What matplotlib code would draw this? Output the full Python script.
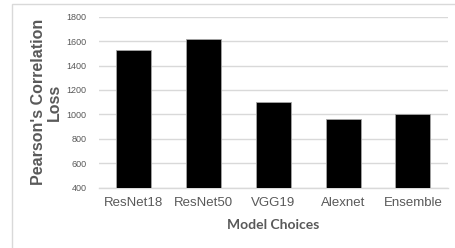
import matplotlib
matplotlib.use("Agg")
import matplotlib.pyplot as plt
from matplotlib.patches import Rectangle

categories = ["ResNet18", "ResNet50", "VGG19", "Alexnet", "Ensemble"]
values = [1530, 1620, 1103, 966, 1000]
yticks = [400, 600, 800, 1000, 1200, 1400, 1600, 1800]

W, H = 455, 248
fig = plt.figure(figsize=(W / 100, H / 100), dpi=100)

# outer chart border (cut off on right and bottom)
fig.patches.append(Rectangle((12 / W, -0.05), 1.2, 1 - 4 / H + 0.05,
                             transform=fig.transFigure, fill=False,
                             edgecolor="#d9d9d9", linewidth=1.0))

ax = fig.add_axes([99 / W, 1 - 187.7 / H, (447.7 - 99) / W, (187.7 - 16.7) / H])
x = range(len(categories))
ax.bar(x, values, width=0.5, color="black", edgecolor="#a6a6a6", linewidth=0.6,
       zorder=3, bottom=0)
ax.set_ylim(400, 1800)
ax.set_xlim(-0.5, len(categories) - 0.5)
ax.set_yticks(yticks)
ax.set_yticklabels([str(v) for v in yticks])
ax.set_xticks(list(x))
ax.set_xticklabels(categories)
ax.grid(axis="y", color="#d9d9d9", linewidth=1.0, zorder=0)
for s in ["top", "right", "left"]:
    ax.spines[s].set_visible(False)
ax.spines["bottom"].set_color("#d9d9d9")
ax.spines["bottom"].set_linewidth(1.0)
ax.tick_params(axis="both", length=0)
ax.tick_params(axis="y", labelsize=6.5, labelcolor="#595959", pad=9)
ax.tick_params(axis="x", labelsize=9.5, labelcolor="#595959", pad=7)
for lab in ax.get_xticklabels() + ax.get_yticklabels():
    lab.set_family("Liberation Sans")

ax.set_ylabel("Pearson's Correlation\nLoss", fontsize=11.5, fontweight="bold",
              color="#595959", family="Liberation Sans", linespacing=1.05)
ax.yaxis.set_label_coords(-37 / (447.7 - 99), 0.5)
ax.set_xlabel("Model Choices", fontsize=10, fontweight="bold", color="#595959",
              family="Lato")
ax.xaxis.set_label_coords(0.5, -(225 - 187.7) / (187.7 - 16.7))
ax.xaxis.label.set_va("center")

fig.savefig("out.png", dpi=100)
